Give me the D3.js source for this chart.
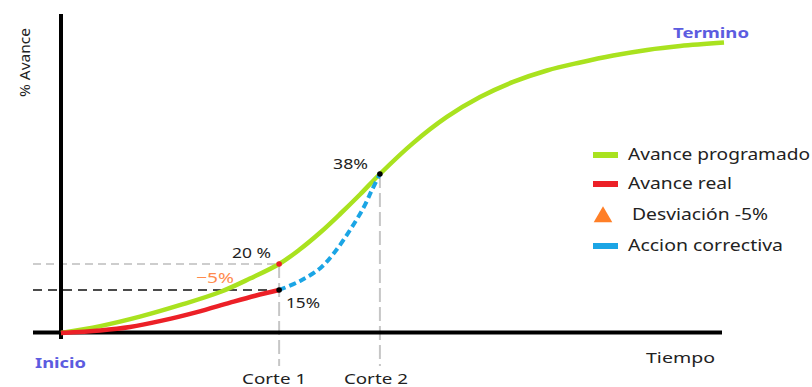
<!DOCTYPE html>
<html>
<head>
<meta charset="utf-8">
<script src="https://cdn.jsdelivr.net/npm/d3@7/dist/d3.min.js"></script>
<style>
  html, body { margin: 0; padding: 0; background: #fff; }
  svg { display: block; }
  text { font-family: "Noto Sans", "Open Sans", sans-serif; }
</style>
</head>
<body>
<svg id="chart" width="812" height="387"></svg>
<script>
// ---- Data ----
// Avance programado (curva S)
const progTiempo = [0, 5.9, 11.9, 17.9, 24.0, 28.5, 32.9, 36.0, 39.1, 42.1, 45.1, 48.1, 53.1, 58.2, 63.2, 68.2, 73.3, 78.3, 83.3, 88.4, 93.4, 100];
const progAvance = [0, 2.4, 5.7, 9.7, 14.3, 17.2, 20, 22.9, 26.3, 30, 33.9, 38, 52.3, 64.4, 73.6, 80.6, 85.9, 89.6, 92.8, 95.4, 97.2, 98.8];
// Avance real
const realTiempo = [0, 5.9, 10.4, 15.4, 20.5, 25.5, 29.3, 32.9];
const realAvance = [0, 0.9, 2.1, 4.4, 7.3, 10.6, 13.0, 15];
// Accion correctiva
const corrTiempo = [32.9, 36.0, 39.1, 41.3, 43.6, 45.6, 46.9, 48.1];
const corrAvance = [15, 16.7, 19.2, 22.4, 26.8, 31.2, 34.8, 38];
// Cortes
const corteLabels = ["Corte 1", "Corte 2"];
const corteTiempo = [32.9, 48.1];
const corteAvance = [20, 38];
// Legend
const legendLabels = ["Avance programado", "Avance real", "Desviación -5%", "Accion correctiva"];
const legendTypes = ["line", "line", "triangle", "line"];

const colors = {
  prog: "#a9e21f",
  real: "#ec2027",
  dev: "#ff7f27",
  corr: "#1ba5e5",
  label: "#5c5ce0",
  text: "#222"
};

const svg = d3.select("#chart");

const x = d3.scaleLinear().domain([0, 100]).range([61, 724]);
// schematic (non-uniform) vertical scale
const y = d3.scaleLinear().domain([0, 15, 20, 38, 100]).range([333, 290, 264, 174, 40]);

const zip = (a, b) => a.map((v, i) => [v, b[i]]);
const line = d3.line().x(d => x(d[0])).y(d => y(d[1])).curve(d3.curveCatmullRom.alpha(0.5));

// ---- guide lines ----
const xLeft = 33;
svg.append("line")
  .attr("x1", xLeft).attr("x2", x(corteTiempo[0]))
  .attr("y1", y(20)).attr("y2", y(20))
  .attr("stroke", "#bdbdbd").attr("stroke-width", 1.5).attr("stroke-dasharray", "8,5");
svg.append("line")
  .attr("x1", xLeft).attr("x2", x(corteTiempo[0]) + 8)
  .attr("y1", y(15)).attr("y2", y(15))
  .attr("stroke", "#111").attr("stroke-width", 1.5).attr("stroke-dasharray", "9,6");

// vertical corte lines
const labelShift = [-37, -36];
corteTiempo.forEach((t, i) => {
  svg.append("line")
    .attr("x1", x(t)).attr("x2", x(t))
    .attr("y1", y(corteAvance[i])).attr("y2", 366)
    .attr("stroke", "#c6c6c6").attr("stroke-width", 2).attr("stroke-dasharray", "14,5");
  svg.append("text")
    .attr("x", x(t) + labelShift[i]).attr("y", 384)
    .attr("font-size", 15).attr("fill", colors.text)
    .attr("textLength", 64).attr("lengthAdjust", "spacingAndGlyphs")
    .text(corteLabels[i]);
});

// ---- axes ----
svg.append("line").attr("x1", 61).attr("x2", 61).attr("y1", 14).attr("y2", 339)
  .attr("stroke", "#000").attr("stroke-width", 4);
svg.append("line").attr("x1", xLeft).attr("x2", 722).attr("y1", 332.5).attr("y2", 332.5)
  .attr("stroke", "#000").attr("stroke-width", 4);

// ---- curves ----
svg.append("path").attr("d", line(zip(progTiempo, progAvance)))
  .attr("fill", "none").attr("stroke", colors.prog).attr("stroke-width", 4.5);
svg.append("path").attr("d", line(zip(realTiempo, realAvance)))
  .attr("fill", "none").attr("stroke", colors.real).attr("stroke-width", 4.5);
svg.append("path").attr("d", line(zip(corrTiempo, corrAvance)))
  .attr("fill", "none").attr("stroke", colors.corr).attr("stroke-width", 4)
  .attr("stroke-dasharray", "7,4");

// ---- markers ----
svg.append("circle").attr("cx", x(corteTiempo[0])).attr("cy", y(20)).attr("r", 2.8).attr("fill", colors.real);
svg.append("circle").attr("cx", x(corteTiempo[0])).attr("cy", y(15)).attr("r", 2.8).attr("fill", "#000");
svg.append("circle").attr("cx", x(corteTiempo[1])).attr("cy", y(38)).attr("r", 2.8).attr("fill", "#000");

// ---- annotations ----
function label(txt, px, py, opts) {
  const t = svg.append("text").attr("x", px).attr("y", py)
    .attr("font-size", opts.size || 15)
    .attr("fill", opts.color || colors.text)
    .attr("font-weight", opts.weight || "normal")
    .text(txt);
  if (opts.len) t.attr("textLength", opts.len).attr("lengthAdjust", "spacingAndGlyphs");
  return t;
}
label("20 %", 232, 258, {len: 39});
label("\u22125%", 196, 283, {color: "#ff8a4c", len: 38});
label("15%", 286, 308, {len: 34});
label("38%", 333, 169, {len: 35});
label("Inicio", 35, 368, {color: colors.label, weight: "bold", len: 51});
label("Termino", 673, 38, {color: colors.label, weight: "bold", len: 76});
label("Tiempo", 646, 363, {size: 14, len: 69});

svg.append("text")
  .attr("transform", "translate(30,97) rotate(-90)")
  .attr("font-size", 14).attr("fill", colors.text)
  .attr("textLength", 69).attr("lengthAdjust", "spacingAndGlyphs")
  .text("% Avance");

// ---- legend ----
const legColors = [colors.prog, colors.real, colors.dev, colors.corr];
const legY = [155, 184, 215, 246];
const legTextX = [628, 628, 632, 628];
const legLen = [182, 104, 136, 155];
legendLabels.forEach((lab, i) => {
  if (legendTypes[i] === "line") {
    svg.append("rect").attr("x", 593).attr("y", legY[i] - 3).attr("width", 25).attr("height", 6)
      .attr("fill", legColors[i]);
  } else {
    svg.append("path")
      .attr("d", d3.symbol().type(d3.symbolTriangle).size(150)())
      .attr("transform", `translate(603,${legY[i] + 2})`)
      .attr("fill", legColors[i]);
  }
  svg.append("text").attr("x", legTextX[i]).attr("y", legY[i] + 5)
    .attr("font-size", 16).attr("fill", colors.text)
    .attr("textLength", legLen[i]).attr("lengthAdjust", "spacingAndGlyphs")
    .text(lab);
});
</script>
</body>
</html>
